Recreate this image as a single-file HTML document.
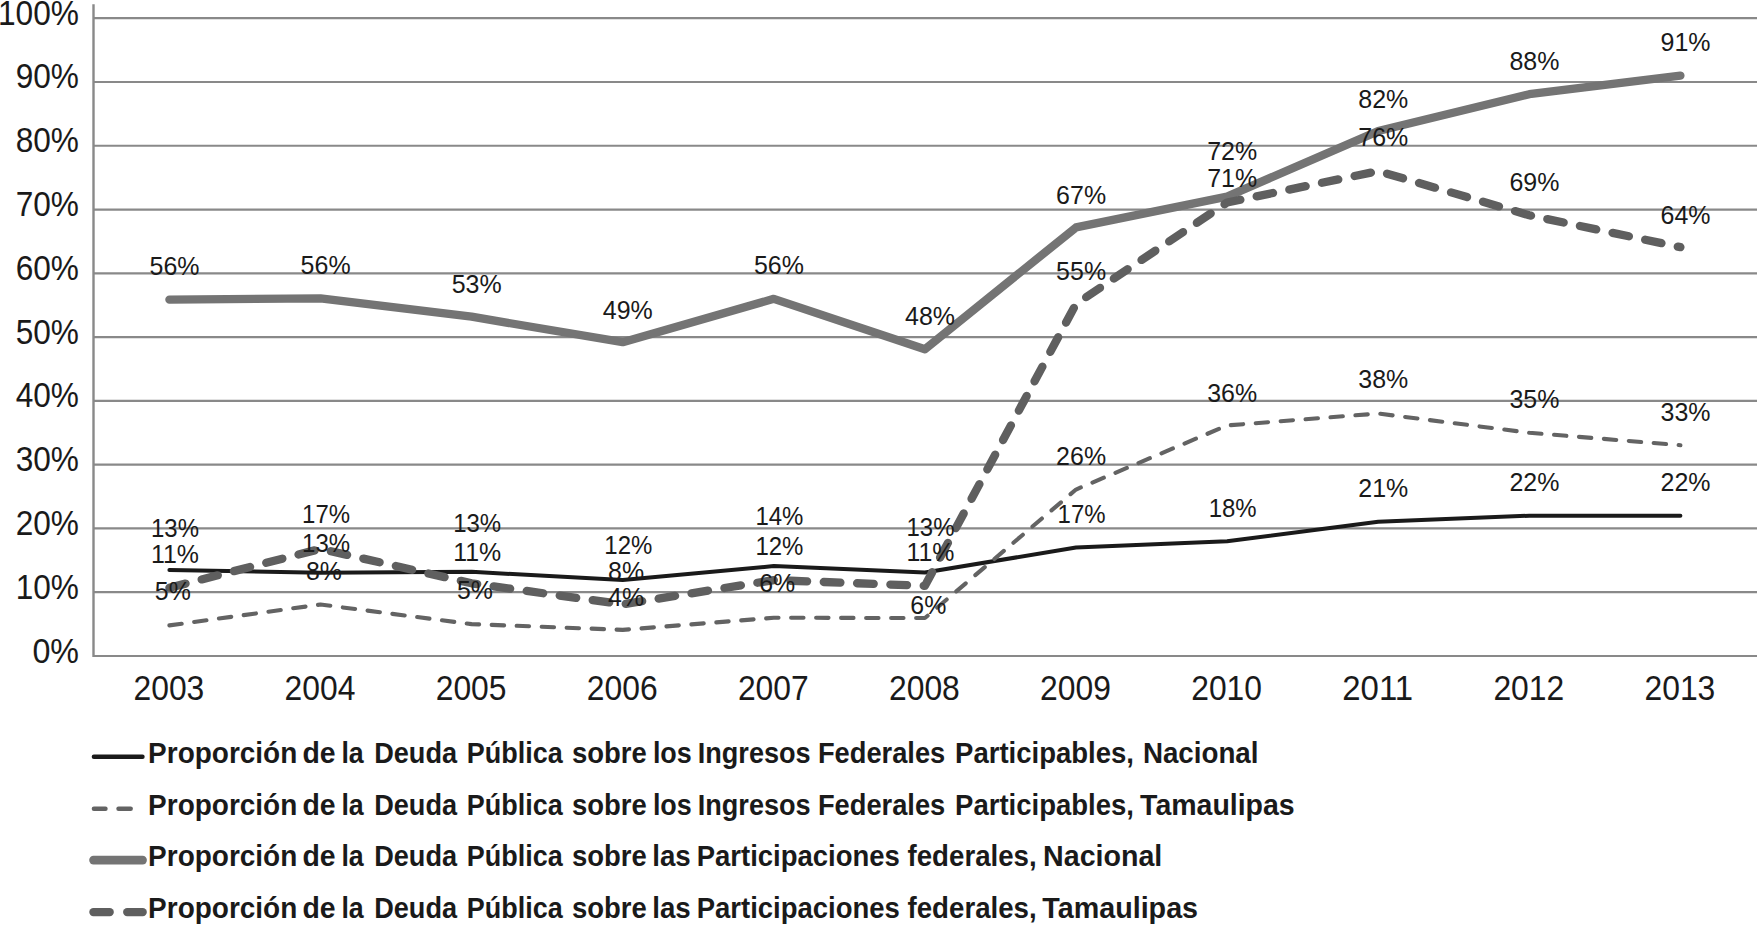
<!DOCTYPE html>
<html lang="es">
<head>
<meta charset="utf-8">
<title>Proporción de la Deuda Pública</title>
<style>
html,body{margin:0;padding:0;background:#fff;}
body{width:1757px;height:925px;overflow:hidden;}
svg{display:block;}
text{font-family:"Liberation Sans",Arial,sans-serif;fill:#1a1a1a;}
.ax{font-size:35.5px;}
.dl{font-size:26.7px;}
.lg{font-size:29.5px;font-weight:bold;}
</style>
</head>
<body>
<svg width="1757" height="925" viewBox="0 0 1757 925">
<rect x="0" y="0" width="1757" height="925" fill="#ffffff"/>
<g id="grid" stroke="#898989" stroke-width="2.2" fill="none">
<line x1="93.5" y1="656.00" x2="1757" y2="656.00"/>
<line x1="93.5" y1="592.22" x2="1757" y2="592.22"/>
<line x1="93.5" y1="528.44" x2="1757" y2="528.44"/>
<line x1="93.5" y1="464.66" x2="1757" y2="464.66"/>
<line x1="93.5" y1="400.88" x2="1757" y2="400.88"/>
<line x1="93.5" y1="337.10" x2="1757" y2="337.10"/>
<line x1="93.5" y1="273.32" x2="1757" y2="273.32"/>
<line x1="93.5" y1="209.54" x2="1757" y2="209.54"/>
<line x1="93.5" y1="145.76" x2="1757" y2="145.76"/>
<line x1="93.5" y1="81.98" x2="1757" y2="81.98"/>
<line x1="93.5" y1="18.20" x2="1757" y2="18.20"/>
<line x1="93.5" y1="4.3" x2="93.5" y2="657.10" stroke-width="2.4"/>
</g>
<g id="yaxis" class="ax" text-anchor="end">
<text x="79.00" y="662.50" textLength="46.6" lengthAdjust="spacingAndGlyphs">0%</text>
<text x="79.00" y="598.72" textLength="63.3" lengthAdjust="spacingAndGlyphs">10%</text>
<text x="79.00" y="534.94" textLength="63.3" lengthAdjust="spacingAndGlyphs">20%</text>
<text x="79.00" y="471.16" textLength="63.3" lengthAdjust="spacingAndGlyphs">30%</text>
<text x="79.00" y="407.38" textLength="63.3" lengthAdjust="spacingAndGlyphs">40%</text>
<text x="79.00" y="343.60" textLength="63.3" lengthAdjust="spacingAndGlyphs">50%</text>
<text x="79.00" y="279.82" textLength="63.3" lengthAdjust="spacingAndGlyphs">60%</text>
<text x="79.00" y="216.04" textLength="63.3" lengthAdjust="spacingAndGlyphs">70%</text>
<text x="79.00" y="152.26" textLength="63.3" lengthAdjust="spacingAndGlyphs">80%</text>
<text x="79.00" y="88.48" textLength="63.3" lengthAdjust="spacingAndGlyphs">90%</text>
<text x="79.00" y="24.70" textLength="81.0" lengthAdjust="spacingAndGlyphs">100%</text>
</g>
<g id="xaxis" class="ax" text-anchor="middle">
<text x="168.90" y="700.30" textLength="70.8" lengthAdjust="spacingAndGlyphs">2003</text>
<text x="320.00" y="700.30" textLength="70.8" lengthAdjust="spacingAndGlyphs">2004</text>
<text x="471.10" y="700.30" textLength="70.8" lengthAdjust="spacingAndGlyphs">2005</text>
<text x="622.20" y="700.30" textLength="70.8" lengthAdjust="spacingAndGlyphs">2006</text>
<text x="773.30" y="700.30" textLength="70.8" lengthAdjust="spacingAndGlyphs">2007</text>
<text x="924.40" y="700.30" textLength="70.8" lengthAdjust="spacingAndGlyphs">2008</text>
<text x="1075.50" y="700.30" textLength="70.8" lengthAdjust="spacingAndGlyphs">2009</text>
<text x="1226.60" y="700.30" textLength="70.8" lengthAdjust="spacingAndGlyphs">2010</text>
<text x="1377.70" y="700.30" textLength="70.8" lengthAdjust="spacingAndGlyphs">2011</text>
<text x="1528.80" y="700.30" textLength="70.8" lengthAdjust="spacingAndGlyphs">2012</text>
<text x="1679.90" y="700.30" textLength="70.8" lengthAdjust="spacingAndGlyphs">2013</text>
</g>
<g id="series" fill="none" stroke-linecap="round" stroke-linejoin="round">
<polyline points="169.40,570.09 320.50,572.70 471.60,571.81 622.70,580.10 773.80,566.07 924.90,572.45 1076.00,547.57 1227.10,541.20 1378.20,521.68 1529.30,515.68 1680.40,515.68" stroke="#1a1a1a" stroke-width="4"/>
<polyline points="169.40,625.39 320.50,604.53 471.60,624.11 622.70,629.85 773.80,617.73 924.90,618.05 1076.00,489.53 1227.10,425.44 1378.20,413.51 1529.30,432.77 1680.40,445.21" stroke="#636363" stroke-width="4.1" stroke-dasharray="12.4 12.6"/>
<polyline points="169.40,299.60 320.50,298.32 471.60,316.69 622.70,342.20 773.80,298.83 924.90,349.22 1076.00,227.40 1227.10,196.59 1378.20,131.09 1529.30,94.23 1680.40,75.60" stroke="#747474" stroke-width="8.3"/>
<polyline points="169.40,587.76 320.50,548.85 471.60,583.29 622.70,604.34 773.80,580.10 924.90,585.84 1076.00,303.93 1227.10,202.52 1378.20,171.08 1529.30,215.28 1680.40,247.17" stroke="#5f5f5f" stroke-width="8.3" stroke-dasharray="16.65 16.68"/>
</g>
<g id="labels" class="dl" text-anchor="middle">
<text x="174.50" y="274.60" textLength="50.0" lengthAdjust="spacingAndGlyphs">56%</text>
<text x="175.00" y="537.10" textLength="48.0" lengthAdjust="spacingAndGlyphs">13%</text>
<text x="175.00" y="563.00" textLength="48.0" lengthAdjust="spacingAndGlyphs">11%</text>
<text x="172.80" y="600.40" textLength="36.0" lengthAdjust="spacingAndGlyphs">5%</text>
<text x="325.60" y="273.70" textLength="50.0" lengthAdjust="spacingAndGlyphs">56%</text>
<text x="326.10" y="522.90" textLength="48.0" lengthAdjust="spacingAndGlyphs">17%</text>
<text x="326.10" y="551.90" textLength="48.0" lengthAdjust="spacingAndGlyphs">13%</text>
<text x="323.90" y="580.30" textLength="36.0" lengthAdjust="spacingAndGlyphs">8%</text>
<text x="476.70" y="292.80" textLength="50.0" lengthAdjust="spacingAndGlyphs">53%</text>
<text x="477.20" y="531.50" textLength="48.0" lengthAdjust="spacingAndGlyphs">13%</text>
<text x="477.20" y="560.90" textLength="48.0" lengthAdjust="spacingAndGlyphs">11%</text>
<text x="475.00" y="599.30" textLength="36.0" lengthAdjust="spacingAndGlyphs">5%</text>
<text x="627.80" y="318.50" textLength="50.0" lengthAdjust="spacingAndGlyphs">49%</text>
<text x="628.30" y="554.40" textLength="48.0" lengthAdjust="spacingAndGlyphs">12%</text>
<text x="626.10" y="580.00" textLength="36.0" lengthAdjust="spacingAndGlyphs">8%</text>
<text x="626.10" y="605.60" textLength="36.0" lengthAdjust="spacingAndGlyphs">4%</text>
<text x="778.90" y="274.10" textLength="50.0" lengthAdjust="spacingAndGlyphs">56%</text>
<text x="779.40" y="525.10" textLength="48.0" lengthAdjust="spacingAndGlyphs">14%</text>
<text x="779.40" y="554.50" textLength="48.0" lengthAdjust="spacingAndGlyphs">12%</text>
<text x="777.20" y="592.10" textLength="36.0" lengthAdjust="spacingAndGlyphs">6%</text>
<text x="930.00" y="324.70" textLength="50.0" lengthAdjust="spacingAndGlyphs">48%</text>
<text x="930.50" y="535.80" textLength="48.0" lengthAdjust="spacingAndGlyphs">13%</text>
<text x="930.50" y="560.90" textLength="48.0" lengthAdjust="spacingAndGlyphs">11%</text>
<text x="928.30" y="613.70" textLength="36.0" lengthAdjust="spacingAndGlyphs">6%</text>
<text x="1081.10" y="203.80" textLength="50.0" lengthAdjust="spacingAndGlyphs">67%</text>
<text x="1081.10" y="280.40" textLength="50.0" lengthAdjust="spacingAndGlyphs">55%</text>
<text x="1081.10" y="464.70" textLength="50.0" lengthAdjust="spacingAndGlyphs">26%</text>
<text x="1081.60" y="523.00" textLength="48.0" lengthAdjust="spacingAndGlyphs">17%</text>
<text x="1232.20" y="159.70" textLength="50.0" lengthAdjust="spacingAndGlyphs">72%</text>
<text x="1232.20" y="187.10" textLength="50.0" lengthAdjust="spacingAndGlyphs">71%</text>
<text x="1232.20" y="401.60" textLength="50.0" lengthAdjust="spacingAndGlyphs">36%</text>
<text x="1232.70" y="516.60" textLength="48.0" lengthAdjust="spacingAndGlyphs">18%</text>
<text x="1383.30" y="108.00" textLength="50.0" lengthAdjust="spacingAndGlyphs">82%</text>
<text x="1383.30" y="146.10" textLength="50.0" lengthAdjust="spacingAndGlyphs">76%</text>
<text x="1383.30" y="388.40" textLength="50.0" lengthAdjust="spacingAndGlyphs">38%</text>
<text x="1383.30" y="496.60" textLength="50.0" lengthAdjust="spacingAndGlyphs">21%</text>
<text x="1534.40" y="70.00" textLength="50.0" lengthAdjust="spacingAndGlyphs">88%</text>
<text x="1534.40" y="190.80" textLength="50.0" lengthAdjust="spacingAndGlyphs">69%</text>
<text x="1534.40" y="408.20" textLength="50.0" lengthAdjust="spacingAndGlyphs">35%</text>
<text x="1534.40" y="491.10" textLength="50.0" lengthAdjust="spacingAndGlyphs">22%</text>
<text x="1685.50" y="51.20" textLength="50.0" lengthAdjust="spacingAndGlyphs">91%</text>
<text x="1685.50" y="223.50" textLength="50.0" lengthAdjust="spacingAndGlyphs">64%</text>
<text x="1685.50" y="421.00" textLength="50.0" lengthAdjust="spacingAndGlyphs">33%</text>
<text x="1685.50" y="491.10" textLength="50.0" lengthAdjust="spacingAndGlyphs">22%</text>
</g>
<g id="legend" class="lg">
<text y="763.00"><tspan x="148.09" textLength="149.22" lengthAdjust="spacingAndGlyphs">Proporción</tspan> <tspan x="302.52" textLength="33.15" lengthAdjust="spacingAndGlyphs">de</tspan> <tspan x="341.43" textLength="22.32" lengthAdjust="spacingAndGlyphs">la</tspan> <tspan x="374.14" textLength="82.97" lengthAdjust="spacingAndGlyphs">Deuda</tspan> <tspan x="466.71" textLength="95.99" lengthAdjust="spacingAndGlyphs">Pública</tspan> <tspan x="571.91" textLength="74.79" lengthAdjust="spacingAndGlyphs">sobre</tspan> <tspan x="652.88" textLength="38.84" lengthAdjust="spacingAndGlyphs">los</tspan> <tspan x="697.70" textLength="113.00" lengthAdjust="spacingAndGlyphs">Ingresos</tspan> <tspan x="817.89" textLength="127.41" lengthAdjust="spacingAndGlyphs">Federales</tspan> <tspan x="955.11" textLength="178.83" lengthAdjust="spacingAndGlyphs">Participables,</tspan> <tspan x="1142.88" textLength="115.64" lengthAdjust="spacingAndGlyphs">Nacional</tspan></text>
<text y="815.00"><tspan x="148.09" textLength="149.22" lengthAdjust="spacingAndGlyphs">Proporción</tspan> <tspan x="302.52" textLength="33.15" lengthAdjust="spacingAndGlyphs">de</tspan> <tspan x="341.43" textLength="22.32" lengthAdjust="spacingAndGlyphs">la</tspan> <tspan x="374.14" textLength="82.97" lengthAdjust="spacingAndGlyphs">Deuda</tspan> <tspan x="466.71" textLength="95.99" lengthAdjust="spacingAndGlyphs">Pública</tspan> <tspan x="571.91" textLength="74.79" lengthAdjust="spacingAndGlyphs">sobre</tspan> <tspan x="652.88" textLength="38.84" lengthAdjust="spacingAndGlyphs">los</tspan> <tspan x="697.70" textLength="113.00" lengthAdjust="spacingAndGlyphs">Ingresos</tspan> <tspan x="817.89" textLength="127.41" lengthAdjust="spacingAndGlyphs">Federales</tspan> <tspan x="955.11" textLength="178.83" lengthAdjust="spacingAndGlyphs">Participables,</tspan> <tspan x="1140.10" textLength="154.60" lengthAdjust="spacingAndGlyphs">Tamaulipas</tspan></text>
<text y="866.30"><tspan x="148.09" textLength="149.22" lengthAdjust="spacingAndGlyphs">Proporción</tspan> <tspan x="302.52" textLength="33.15" lengthAdjust="spacingAndGlyphs">de</tspan> <tspan x="341.43" textLength="22.32" lengthAdjust="spacingAndGlyphs">la</tspan> <tspan x="374.14" textLength="82.97" lengthAdjust="spacingAndGlyphs">Deuda</tspan> <tspan x="466.71" textLength="95.99" lengthAdjust="spacingAndGlyphs">Pública</tspan> <tspan x="571.91" textLength="74.79" lengthAdjust="spacingAndGlyphs">sobre</tspan> <tspan x="652.25" textLength="38.49" lengthAdjust="spacingAndGlyphs">las</tspan> <tspan x="696.68" textLength="203.22" lengthAdjust="spacingAndGlyphs">Participaciones</tspan> <tspan x="907.50" textLength="129.18" lengthAdjust="spacingAndGlyphs">federales,</tspan> <tspan x="1043.09" textLength="119.24" lengthAdjust="spacingAndGlyphs">Nacional</tspan></text>
<text y="918.20"><tspan x="148.09" textLength="149.22" lengthAdjust="spacingAndGlyphs">Proporción</tspan> <tspan x="302.52" textLength="33.15" lengthAdjust="spacingAndGlyphs">de</tspan> <tspan x="341.43" textLength="22.32" lengthAdjust="spacingAndGlyphs">la</tspan> <tspan x="374.14" textLength="82.97" lengthAdjust="spacingAndGlyphs">Deuda</tspan> <tspan x="466.71" textLength="95.99" lengthAdjust="spacingAndGlyphs">Pública</tspan> <tspan x="571.91" textLength="74.79" lengthAdjust="spacingAndGlyphs">sobre</tspan> <tspan x="652.25" textLength="38.49" lengthAdjust="spacingAndGlyphs">las</tspan> <tspan x="696.68" textLength="203.22" lengthAdjust="spacingAndGlyphs">Participaciones</tspan> <tspan x="907.50" textLength="129.18" lengthAdjust="spacingAndGlyphs">federales,</tspan> <tspan x="1042.30" textLength="155.78" lengthAdjust="spacingAndGlyphs">Tamaulipas</tspan></text>
</g>
<g id="legendkeys" fill="none" stroke-linecap="round">
<line x1="93.9" y1="756.75" x2="142.5" y2="756.75" stroke="#1a1a1a" stroke-width="4.4"/>
<line x1="93.9" y1="808.7" x2="105.5" y2="808.7" stroke="#636363" stroke-width="4.4"/>
<line x1="118.5" y1="808.7" x2="130.7" y2="808.7" stroke="#636363" stroke-width="4.4"/>
<line x1="93.5" y1="860.1" x2="142.6" y2="860.1" stroke="#747474" stroke-width="8.6"/>
<line x1="93.4" y1="912.1" x2="109.7" y2="912.1" stroke="#5f5f5f" stroke-width="8.3"/>
<line x1="127.2" y1="912.1" x2="142.7" y2="912.1" stroke="#5f5f5f" stroke-width="8.3"/>
</g>
</svg>
</body>
</html>
